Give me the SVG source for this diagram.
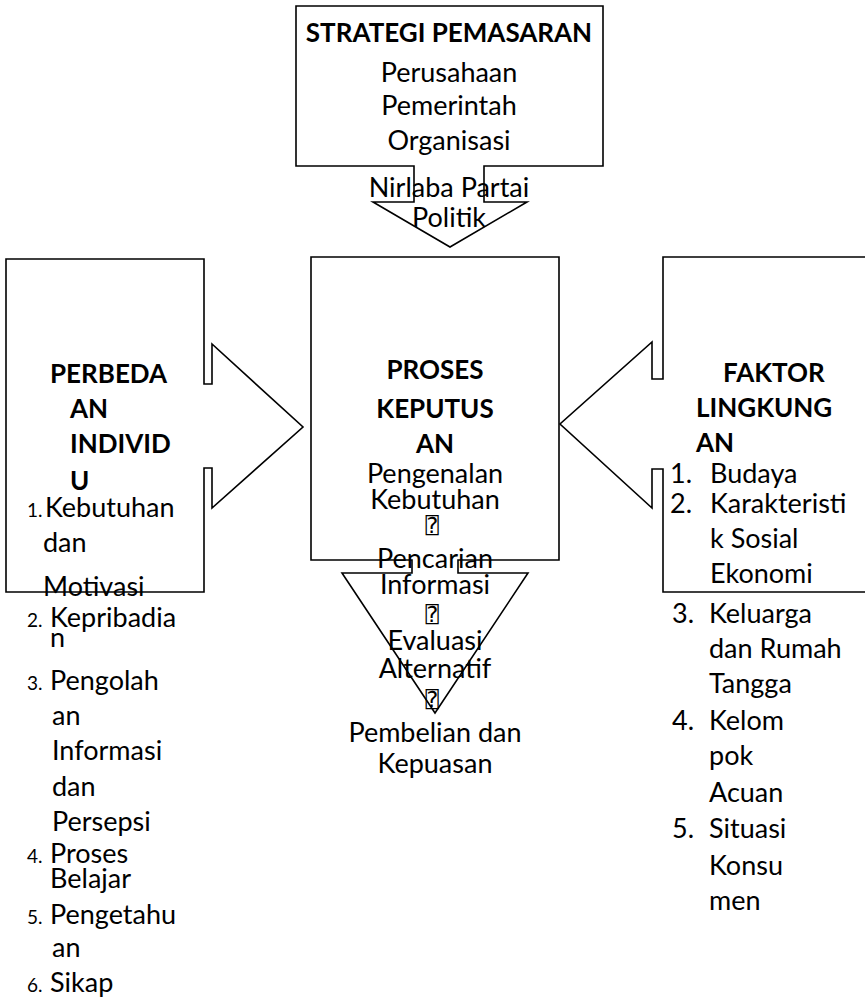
<svg xmlns="http://www.w3.org/2000/svg" width="865" height="1003" viewBox="0 0 865 1003">
<style>
.shape{fill:#fff;stroke:#000;stroke-width:1.6;stroke-linejoin:miter}
text{font-family:Lato,"Open Sans","Liberation Sans",sans-serif;fill:#000}
.b{font-weight:bold;font-size:26px}
.r{font-size:27px}
.c{text-anchor:middle}
.n{font-size:19px}
.q{font-family:"DejaVu Sans Mono","DejaVu Sans",monospace;font-size:22px;text-anchor:middle}
</style>
<rect width="865" height="1003" fill="#fff"/>
<g id="connectors">
</g>
<g id="strategi">
<path class="shape" d="M296,6 H603 V166 H484 V202 H527 L450,247 L373,202 H414 V166 H296 Z"/>
<text class="b c" x="449" y="42">STRATEGI PEMASARAN</text>
<text class="r c" x="449" y="82">Perusahaan</text>
<text class="r c" x="449" y="115">Pemerintah</text>
<text class="r c" x="449" y="150">Organisasi</text>
<text class="r c" x="449" y="197">Nirlaba Partai</text>
<text class="r c" x="449" y="227">Politik</text>
</g>
<g id="perbedaan">
<path class="shape" d="M6,259 H204 V384 H212 V344 L303,427 L212,508 V468 H204 V592 H6 Z"/>
<text class="b" x="50" y="383">PERBEDA</text>
<text class="b" x="70" y="418">AN</text>
<text class="b" x="70" y="453">INDIVID</text>
<text class="b" x="70" y="490">U</text>
<text class="n" x="27" y="517">1.</text>
<text class="r" x="45" y="517">Kebutuhan</text>
<text class="r" x="43" y="552">dan</text>
<text class="r" x="43" y="596">Motivasi</text>
<text class="n" x="27" y="627">2.</text>
<text class="r" x="50" y="627">Kepribadia</text>
<text class="r" x="50" y="647">n</text>
<text class="n" x="27" y="690">3.</text>
<text class="r" x="50" y="690">Pengolah</text>
<text class="r" x="52" y="725">an</text>
<text class="r" x="52" y="760">Informasi</text>
<text class="r" x="52" y="796">dan</text>
<text class="r" x="52" y="831">Persepsi</text>
<text class="n" x="27" y="863">4.</text>
<text class="r" x="50" y="863">Proses</text>
<text class="r" x="50" y="888">Belajar</text>
<text class="n" x="27" y="924">5.</text>
<text class="r" x="50" y="924">Pengetahu</text>
<text class="r" x="52" y="957">an</text>
<text class="n" x="27" y="992">6.</text>
<text class="r" x="50" y="992">Sikap</text>
</g>
<g id="faktor">
<path class="shape" d="M870,257 H663 V379 H652 V342 L560,424 L652,508 V469 H663 V592 H870"/>
<text class="b" x="723" y="382">FAKTOR</text>
<text class="b" x="696" y="417">LINGKUNG</text>
<text class="b" x="696" y="452">AN</text>
<text class="r" x="670" y="483">1.</text>
<text class="r" x="710" y="483">Budaya</text>
<text class="r" x="670" y="513">2.</text>
<text class="r" x="710" y="513">Karakteristi</text>
<text class="r" x="710" y="548">k Sosial</text>
<text class="r" x="710" y="583">Ekonomi</text>
<text class="r" x="672" y="623">3.</text>
<text class="r" x="709" y="623">Keluarga</text>
<text class="r" x="709" y="658">dan Rumah</text>
<text class="r" x="709" y="693">Tangga</text>
<text class="r" x="672" y="730">4.</text>
<text class="r" x="709" y="730">Kelom</text>
<text class="r" x="709" y="765">pok</text>
<text class="r" x="709" y="802">Acuan</text>
<text class="r" x="672" y="838">5.</text>
<text class="r" x="709" y="838">Situasi</text>
<text class="r" x="709" y="875">Konsu</text>
<text class="r" x="709" y="910">men</text>
</g>
<g id="proses">
<path class="shape" d="M311,257 H559 V560 H458 V573 H528 L435,713 L342,573 H412 V560 H311 Z"/>
<text class="b c" x="435" y="379">PROSES</text>
<text class="b c" x="435" y="418">KEPUTUS</text>
<text class="b c" x="435" y="453">AN</text>
<text class="r c" x="435" y="483">Pengenalan</text>
<text class="r c" x="435" y="509">Kebutuhan</text>
<text class="q" x="432" y="533">⍰</text>
<text class="r c" x="435" y="568">Pencarian</text>
<text class="r c" x="435" y="594">Informasi</text>
<text class="q" x="432" y="622">⍰</text>
<text class="r c" x="435" y="650">Evaluasi</text>
<text class="r c" x="435" y="678">Alternatif</text>
<text class="q" x="432" y="707">⍰</text>
<text class="r c" x="435" y="742">Pembelian dan</text>
<text class="r c" x="435" y="773">Kepuasan</text>
</g>
</svg>
